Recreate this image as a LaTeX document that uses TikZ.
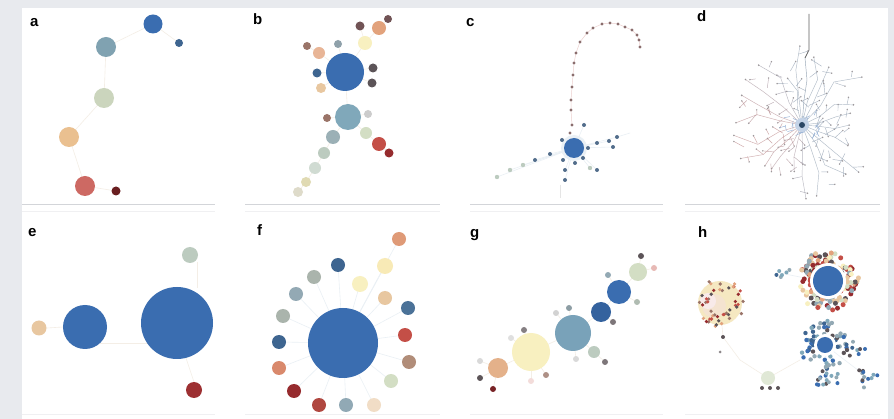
\documentclass[tikz,border=0pt]{standalone}
\usepackage{fontspec}
\setmainfont{Liberation Sans}
\definecolor{bg}{HTML}{E8EAEE}
\definecolor{sep}{HTML}{D3D5D9}
\definecolor{cBlue}{HTML}{3A6DB0}
\definecolor{cNavy}{HTML}{3E6590}
\definecolor{cSteel}{HTML}{80A8BA}
\definecolor{cGB}{HTML}{93A9B4}
\definecolor{cGG}{HTML}{BCCBBF}
\definecolor{cPG}{HTML}{D3DEC4}
\definecolor{cPY}{HTML}{F8F0C0}
\definecolor{cBeige}{HTML}{E8C7A0}
\definecolor{cOr}{HTML}{E2A27C}
\definecolor{cRed}{HTML}{C44F47}
\definecolor{cDR}{HTML}{962B2E}
\definecolor{cDk}{HTML}{5C5458}
\definecolor{cBr}{HTML}{9A7468}
\definecolor{cEdge}{HTML}{F4EEE6}
\definecolor{cEdgeB}{HTML}{EAF0F5}
\definecolor{tcol}{HTML}{D08A86}
\definecolor{gcol}{HTML}{98A6B6}
\newcommand\bub[4]{\fill[#1] (#2,#3) circle[radius=#4pt];}
\tikzset{
  panlabel/.style={anchor=base west,inner sep=0pt,font=\fontsize{15}{15}\selectfont\bfseries},
  edge/.style={draw=cEdge,line width=0.6pt},
  edgeb/.style={draw=cEdgeB,line width=0.6pt},
  sepline/.style={draw=sep,line width=0.8pt},
  dline/.style={line width=0.45pt}
}
\pgfmathdeclarerandomlist{hcols}{{cRed}{cOr}{cBeige}{cGB}{cDk}{cPG}{cDR}{cPY}}
\pgfmathdeclarerandomlist{bcols}{{cBlue}{cNavy}{cDk}{cGB}{cSteel}}
\pgfmathdeclarerandomlist{ycols}{{cDk}{cOr}{cRed}{cDR}{cBr}}
\begin{document}
\begin{tikzpicture}[x=1pt,y=-1pt]
\useasboundingbox (0,0) rectangle (894,419);
\fill[bg] (0,0) rectangle (894,419);
\fill[white] (22,8) rectangle (888,419);
% separators
\foreach \xa/\xb in {22/215,245/440,470/663,685/880}{
  \draw[sepline] (\xa,204) -- (\xb,204);
  \draw[draw=sep!35,line width=0.5pt] (\xa,211) -- (\xb,211);
  \draw[draw=sep!35,line width=0.5pt] (\xa,414) -- (\xb,414);
}
% labels
\node[panlabel] (la) at (30,27) {a};
\node[panlabel] (lb) at (253,25) {b};
\node[panlabel] (lc) at (466,27) {c};
\node[panlabel] (ld) at (697,22) {d};
\node[panlabel] (le) at (28,237) {e};
\node[panlabel] (lf) at (257,236) {f};
\node[panlabel] (lg) at (470,238) {g};
\node[panlabel] (lh) at (698,238) {h};

% ---------- panel a
\draw[edge] (153,24) -- (106,47) -- (104,98) -- (69,137) -- (85,186) -- (116,191);
\draw[edge] (153,24) -- (179,43);
\bub{cBlue}{153}{24}{9.5}
\bub{cNavy}{179}{43}{4}
\bub{cSteel!85!gray}{106}{47}{10}
\bub{cPG!90!gray}{104}{98}{10}
\bub{cBeige!90!orange}{69}{137}{10}
\bub{cRed!85!white}{85}{186}{10}
\bub{cDR!70!black}{116}{191}{4.5}

% ---------- panel b
\foreach \px/\py in {338/44,317/73,321/88,373/68,372/83,319/53,365/43,348/117}{\draw[edge] (345,72) -- (\px,\py);}
\draw[edge] (319,53) -- (307,46);
\draw[edge] (365,43) -- (379,28) -- (388,19);
\draw[edge] (365,43) -- (360,26);
\foreach \px/\py in {327/118,368/114,366/133,333/137}{\draw[edge] (348,117) -- (\px,\py);}
\draw[edge] (366,133) -- (379,144) -- (389,153);
\draw[edge] (333,137) -- (324,153) -- (315,168) -- (306,182) -- (298,192);
\bub{cBlue}{345}{72}{19}
\bub{cSteel}{348}{117}{13}
\bub{cGB!80!gray}{338}{44}{4}
\bub{cNavy}{317}{73}{4.5}
\bub{cBeige}{321}{88}{5}
\bub{cDk}{373}{68}{4.5}
\bub{cDk}{372}{83}{4.5}
\bub{cBr}{307}{46}{4}
\bub{cOr!80!white}{319}{53}{6}
\bub{cPY}{365}{43}{7}
\bub{cDk!80!cRed}{360}{26}{4.5}
\bub{cOr}{379}{28}{7}
\bub{cDk!80!cRed}{388}{19}{4}
\bub{cBr}{327}{118}{4}
\bub{gray!40}{368}{114}{4}
\bub{cPG}{366}{133}{6}
\bub{cRed}{379}{144}{7}
\bub{cDR}{389}{153}{4.5}
\bub{cGB!80!cGG}{333}{137}{7}
\bub{cGG}{324}{153}{6}
\bub{cGG!70!white}{315}{168}{6}
\bub{cPY!80!gray}{306}{182}{5}
\bub{cPY!60!gray!60!white}{298}{192}{5}

% ---------- panel c
\draw[draw=tcol!40,line width=0.5pt] (572,125) -- (571,110) -- (571,100) -- (572,87) -- (573,75) -- (574,63) -- (576,53) -- (580,42) -- (587,33) -- (593,28) -- (602,24) -- (610,23) -- (618,24) -- (625,27) -- (632,30) -- (637,35) -- (639,40) -- (640,47);
\foreach \px/\py in {571/110,571/100,572/87,573/75,574/63,576/53,580/42,587/33,593/28,602/24,610/23,618/24,625/27,632/30,637/35,639/40,640/47,572/125,570/133}{\fill[cDk!75!cRed!85!white] (\px,\py) circle[radius=1.6pt];}
\foreach \px/\py in {584/125,597/143,609/141,617/137,613/147,590/168,597/170,565/170,565/180,563/160,550/154,535/160,523/165,510/170,497/177,575/163,562/140,583/158,588/148}{\draw[edgeb] (574,148) -- (\px,\py);}
\draw[edgeb] (617,137) -- (630,133);
\draw[draw=gray!20] (560,185) -- (560,198);
\fill[cEdgeB] (574,148) circle[radius=13pt];
\bub{cBlue}{574}{148}{10}
\foreach \px/\py in {584/125,597/143,609/141,617/137,613/147,597/170,565/170,565/180,563/160,550/154,535/160,575/163,562/140,583/158,588/148}{\fill[cNavy!70!gray] (\px,\py) circle[radius=2pt];}
\foreach \px/\py in {523/165,510/170,497/177,590/168}{\fill[cGG] (\px,\py) circle[radius=2.2pt];}

% ---------- panel d
\pgfmathsetseed{7}
\draw[draw=gray!75!black,line width=0.8pt] (809,14) -- (809,50) -- (805,58);
\draw[draw=gcol,line width=0.45pt] (805,58) -- (807,80) -- (804,100) -- (802,125);
\begin{scope}[shift={(802,125)}]
\foreach \k in {0,...,21}{
  \pgfmathsetmacro\aA{\k*16.4+rand*6+5}
  \pgfmathsetmacro\rL{42+rnd*38}
  \pgfmathsetmacro\pr{max(0,cos(\aA-165))*75}
  \pgfmathsetmacro\aB{\aA+rand*9}
  \pgfmathsetmacro\aC{\aA+rand*9}
  \pgfmathsetmacro\rA{0.35*\rL}
  \pgfmathsetmacro\rB{0.7*\rL}
  \draw[dline,color=tcol!\pr!gcol,opacity=0.75] (0,0) -- (\aA:\rA) -- (\aB:\rB) -- (\aC:\rL);
  \foreach \f in {0.3,0.5,0.7,0.9}{
    \pgfmathsetmacro\tw{\aA+(rnd>0.5?1:-1)*(35+rnd*45)}
    \pgfmathsetmacro\rP{\f*\rL}
    \pgfmathsetmacro\aP{\aA+rand*8}
    \pgfmathsetmacro\tl{5+rnd*7}
    \draw[dline,color=tcol!\pr!gcol,opacity=0.8] (\aP:\rP) -- ++(\tw:\tl) coordinate (tend);
    \fill[cDk!60] (tend) circle[radius=0.8pt];
  }
  \fill[cDk!60] (\aC:\rL) circle[radius=0.9pt];
}
\foreach \k in {1,...,22}{
  \pgfmathsetmacro\aA{rnd*360}
  \pgfmathsetmacro\rA{3+rnd*16}
  \pgfmathsetmacro\aB{rnd*360}
  \draw[dline,color=cBlue!55] (\aA:\rA) -- ++(\aB:6);
}
\fill[cBlue!30] (0,0) circle[radius=7pt];
\fill[cNavy!70!black] (0,0) circle[radius=3pt];
\end{scope}

% ---------- panel e
\draw[edge] (100,343) -- (150,343);
\draw[edge] (197,262) -- (197,288);
\draw[edge] (186,358) -- (194,382);
\draw[edge] (47,328) -- (63,327);
\bub{cBeige}{39}{328}{7.5}
\bub{cBlue}{85}{327}{22}
\bub{cBlue}{177}{323}{36}
\bub{cGG}{190}{255}{8}
\bub{cDR!85!cRed}{194}{390}{8}

% ---------- panel f
\foreach \px/\py in {399/239,385/266,360/284,338/265,314/277,296/294,283/316,279/342,279/368,294/391,319/405,346/405,374/405,391/381,409/362,405/335,408/308,385/298}{\draw[edgeb] (343,343) -- (\px,\py);}
\bub{cBlue}{343}{343}{35}
\bub{cOr!90!cRed}{399}{239}{7}
\bub{cPY!95!orange}{385}{266}{8}
\bub{cPY}{360}{284}{8}
\bub{cNavy}{338}{265}{7}
\bub{gray!30!cGG}{314}{277}{7}
\bub{cGB}{296}{294}{7}
\bub{cGG!70!gray}{283}{316}{7}
\bub{cNavy}{279}{342}{7}
\bub{cOr!70!cRed}{279}{368}{7}
\bub{cDR}{294}{391}{7}
\bub{cRed!90!black}{319}{405}{7}
\bub{cGB!90!cSteel}{346}{405}{7}
\bub{cBeige!60!white}{374}{405}{7}
\bub{cPG}{391}{381}{7}
\bub{cBr!70!cBeige}{409}{362}{7}
\bub{cRed}{405}{335}{7}
\bub{cNavy!80!cSteel}{408}{308}{7}
\bub{cBeige}{385}{298}{7}

% ---------- panel g
\draw[edge] (498,368) -- (531,352) -- (573,333) -- (601,312) -- (619,292) -- (638,272);
\foreach \ax/\ay/\bx/\by in {638/272/641/256,638/272/654/268,619/292/608/275,619/292/637/302,601/312/613/322,573/333/569/308,573/333/556/313,573/333/594/352,594/352/605/362,573/333/576/359,531/352/524/330,531/352/511/338,531/352/546/375,531/352/531/381,498/368/480/361,498/368/480/378,498/368/493/389}{\draw[edge] (\ax,\ay) -- (\bx,\by);}
\bub{cOr!60!cBeige}{498}{368}{10}
\bub{cPY}{531}{352}{19}
\bub{cSteel!90!cBlue}{573}{333}{18}
\bub{cBlue!90!black}{601}{312}{10}
\bub{cBlue}{619}{292}{12}
\bub{cPG}{638}{272}{9}
\bub{cDk}{641}{256}{3}
\bub{cRed!40}{654}{268}{3}
\bub{cGB}{608}{275}{3}
\bub{cGG!80!gray}{637}{302}{3}
\bub{cDk!80}{613}{322}{3}
\bub{cGB!70!gray}{569}{308}{3}
\bub{gray!35}{556}{313}{3}
\bub{cGG}{594}{352}{6}
\bub{cDk!80}{605}{362}{3}
\bub{gray!30}{576}{359}{3}
\bub{cDk!75}{524}{330}{3}
\bub{gray!25}{511}{338}{3}
\bub{cBr!80}{546}{375}{3}
\bub{cRed!20}{531}{381}{3}
\bub{gray!30}{480}{361}{3}
\bub{cDk}{480}{378}{3}
\bub{cDR!80!black}{493}{389}{3}

% ---------- panel h
\pgfmathsetseed{11}
\draw[edge] (720,303) -- (723,337) -- (740,360) -- (768,378);
\draw[edgeb] (780,273) -- (805,278);
\draw[edgeb] (825,345) -- (827,378);
\draw[edgeb] (825,345) -- (867,377);
\draw[edge] (768,378) -- (800,360);
\begin{scope}[shift={(828,281)}]
\foreach \i in {1,...,120}{
  \pgfmathsetmacro\aA{rnd*360}
  \pgfmathsetmacro\rA{16+rnd*15}
  \pgfmathrandomitem{\cc}{hcols}
  \fill[fill=\cc] (\aA:\rA) circle[radius=2.5pt];
}
\fill[white] (0,0) circle[radius=18pt];
\fill[cBlue] (0,0) circle[radius=15pt];
\end{scope}
\begin{scope}[shift={(720,303)}]
\fill[cPY!70!cBeige!85!white] (0,0) circle[radius=22pt];
\fill[cBeige!50] (-6,3) circle[radius=12pt];
\fill[cRed!12] (-12,-2) circle[radius=8pt];
\foreach \i in {1,...,45}{
  \pgfmathsetmacro\aA{rnd*360}
  \pgfmathsetmacro\rA{12+rnd*12}
  \pgfmathrandomitem{\cc}{ycols}
  \fill[fill=\cc] (\aA:\rA) circle[radius=1.8pt];
}
\end{scope}
\begin{scope}[shift={(825,345)}]
\foreach \i in {1,...,55}{
  \pgfmathsetmacro\aA{rnd*360}
  \pgfmathsetmacro\rA{11+rnd*14}
  \pgfmathrandomitem{\cc}{bcols}
  \fill[fill=\cc] (\aA:\rA) circle[radius=2.2pt];
}
\fill[white] (0,0) circle[radius=11pt];
\fill[cBlue] (0,0) circle[radius=8pt];
\end{scope}
\foreach \cx/\cy/\n in {827/378/16,867/377/12,857/348/8,780/273/6}{
  \begin{scope}[shift={(\cx,\cy)}]
  \foreach \i in {1,...,\n}{
    \pgfmathsetmacro\aA{rnd*360}
    \pgfmathsetmacro\rA{2+rnd*10}
    \pgfmathrandomitem{\cc}{bcols}
    \fill[fill=\cc] (\aA:\rA) circle[radius=2pt];
  }
  \end{scope}
}
\fill[cPG!70] (768,378) circle[radius=7pt];
\foreach \px in {762,770,778}{\fill[cDk] (\px,388) circle[radius=2pt];}
\fill[cDk] (723,337) circle[radius=2pt];
\fill[cDk!70] (720,352) circle[radius=1.5pt];
\end{tikzpicture}
\end{document}
